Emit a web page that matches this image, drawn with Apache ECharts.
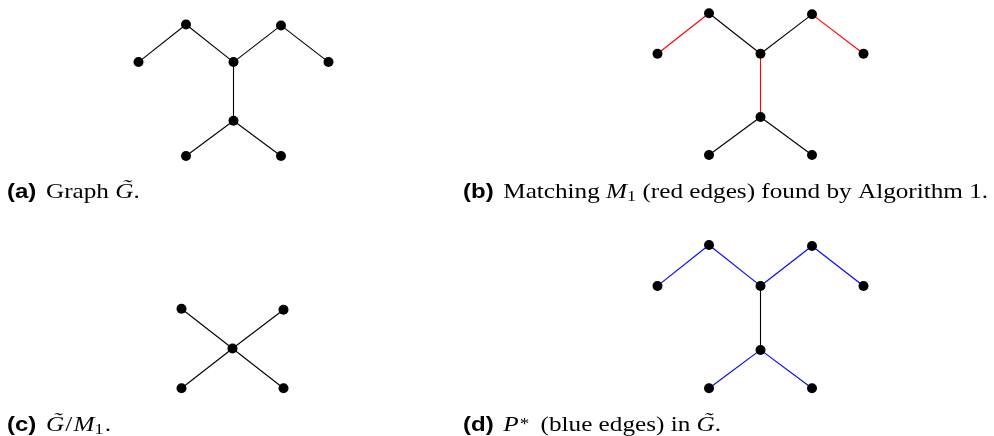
<!DOCTYPE html>
<html>
<head>
<meta charset="utf-8">
<script src="https://cdn.jsdelivr.net/npm/echarts@6/dist/echarts.min.js"></script>
<style>html,body{margin:0;padding:0;background:#fff;}#c{width:994px;height:436px;}</style>
</head>
<body>
<div id="c"></div>
<script>
// Tree graph G~ : node coordinates (abstract units)
const treeNodes = [[-2, 0], [-1, 0.8], [0, 0], [1, 0.78], [2, 0], [0, -1.25], [-1, -2], [1, -2]];
// edges as [source, target]
const treeEdges = [[0, 1], [1, 2], [2, 3], [3, 4], [2, 5], [5, 6], [5, 7]];
// matching M1 (indices into treeEdges) - red
const matchingEdges = [0, 3, 4];
// path P* (indices into treeEdges) - blue
const pathEdges = [0, 1, 2, 3, 5, 6];
// contracted graph G~/M1
const contractedNodes = [[-1, 0.8], [1, 0.78], [0, 0], [-1, -0.8], [1, -0.8]];
const contractedEdges = [[2, 0], [2, 1], [2, 3], [2, 4]];

const captionA = ['(a)', 'Graph ', 'G\u0303', '.'];
const captionB = ['(b)', 'Matching ', 'M', '1', ' (red edges) found by Algorithm 1.'];
const captionC = ['(c)', 'G\u0303', '/', 'M', '1', '.'];
const captionD = ['(d)', 'P', '*', ' (blue edges) in ', 'G\u0303', '.'];

const chart = echarts.init(document.getElementById('c'), null, {renderer: 'canvas'});

function graphSeries(idx, nodes, edges, colorOf) {
  return {
    type: 'graph', coordinateSystem: 'cartesian2d', xAxisIndex: idx, yAxisIndex: idx,
    symbol: 'circle', symbolSize: 10, silent: true, animation: false,
    itemStyle: {color: '#000'},
    label: {show: false},
    lineStyle: {color: '#000', width: 1.1, opacity: 1, curveness: 0},
    data: nodes.map(p => ({value: p})),
    links: edges.map((e, i) => ({source: e[0], target: e[1], lineStyle: {color: colorOf(i)}}))
  };
}

const serif = 'Liberation Serif';
const rich = {
  lab: {fontFamily: 'Liberation Sans', fontWeight: 'bold', fontSize: 20, lineHeight: 26, padding: [0, 8, 0, 0]},
  t: {fontFamily: serif, fontSize: 21, lineHeight: 26, color: '#000'},
  sl: {fontFamily: serif, fontSize: 21, lineHeight: 26, color: '#000', padding: [0, 1, 0, 1]},
  m: {fontFamily: serif, fontStyle: 'italic', fontSize: 21, lineHeight: 26, color: '#000'},
  mr: {fontFamily: serif, fontStyle: 'italic', fontSize: 21, lineHeight: 26, color: '#ff0000'},
  subr: {fontFamily: serif, fontSize: 15, lineHeight: 15, verticalAlign: 'bottom', color: '#ff0000'},
  sub: {fontFamily: serif, fontSize: 15, lineHeight: 15, verticalAlign: 'bottom', color: '#000', padding: [0, 1, 0, 0]},
  mb: {fontFamily: serif, fontStyle: 'italic', fontSize: 21, lineHeight: 26, color: '#0000ff'},
  supb: {fontFamily: serif, fontSize: 16, lineHeight: 26, color: '#0000ff', padding: [0, 4, 0, 1]}
};

function cap(x, y, text) {
  return {type: 'text', x: x, y: y, scaleX: 1.2, silent: true,
    style: {text: text, rich: rich, fill: '#000', x: 0, y: 0, verticalAlign: 'top', align: 'left'}};
}

const option = {
  backgroundColor: '#fff',
  animation: false,
  grid: [
    {left: 138.5, top: 24.5, width: 190, height: 131.5},
    {left: 657.5, top: 13.3, width: 206, height: 141.7},
    {left: 181.5, top: 308.8, width: 102, height: 79.5},
    {left: 657.5, top: 245, width: 206, height: 143.3}
  ],
  xAxis: [
    {type: 'value', gridIndex: 0, min: -2, max: 2, show: false},
    {type: 'value', gridIndex: 1, min: -2, max: 2, show: false},
    {type: 'value', gridIndex: 2, min: -1, max: 1, show: false},
    {type: 'value', gridIndex: 3, min: -2, max: 2, show: false}
  ],
  yAxis: [
    {type: 'value', gridIndex: 0, min: -2, max: 0.8, show: false},
    {type: 'value', gridIndex: 1, min: -2, max: 0.8, show: false},
    {type: 'value', gridIndex: 2, min: -0.8, max: 0.8, show: false},
    {type: 'value', gridIndex: 3, min: -2, max: 0.8, show: false}
  ],
  series: [
    graphSeries(0, treeNodes, treeEdges, () => '#000'),
    graphSeries(1, treeNodes, treeEdges, i => matchingEdges.includes(i) ? '#ff0000' : '#000'),
    graphSeries(2, contractedNodes, contractedEdges, () => '#000'),
    graphSeries(3, treeNodes, treeEdges, i => pathEdges.includes(i) ? '#0000ff' : '#000')
  ],
  graphic: [
    cap(7, 179, '{lab|' + captionA[0] + '}{t|' + captionA[1] + '}{m|' + captionA[2] + '}{t|' + captionA[3] + '}'),
    cap(463, 179, '{lab|' + captionB[0] + '}{t|' + captionB[1] + '}{mr|' + captionB[2] + '}{subr|' + captionB[3] + '}{t|' + captionB[4] + '}'),
    cap(7, 412, '{lab|' + captionC[0] + '}{m|' + captionC[1] + '}{sl|' + captionC[2] + '}{m|' + captionC[3] + '}{sub|' + captionC[4] + '}{t|' + captionC[5] + '}'),
    cap(463, 412, '{lab|' + captionD[0] + '}{mb|' + captionD[1] + '}{supb|' + captionD[2] + '}{t|' + captionD[3] + '}{m|' + captionD[4] + '}{t|' + captionD[5] + '}')
  ]
};
chart.setOption(option);
</script>
</body>
</html>
